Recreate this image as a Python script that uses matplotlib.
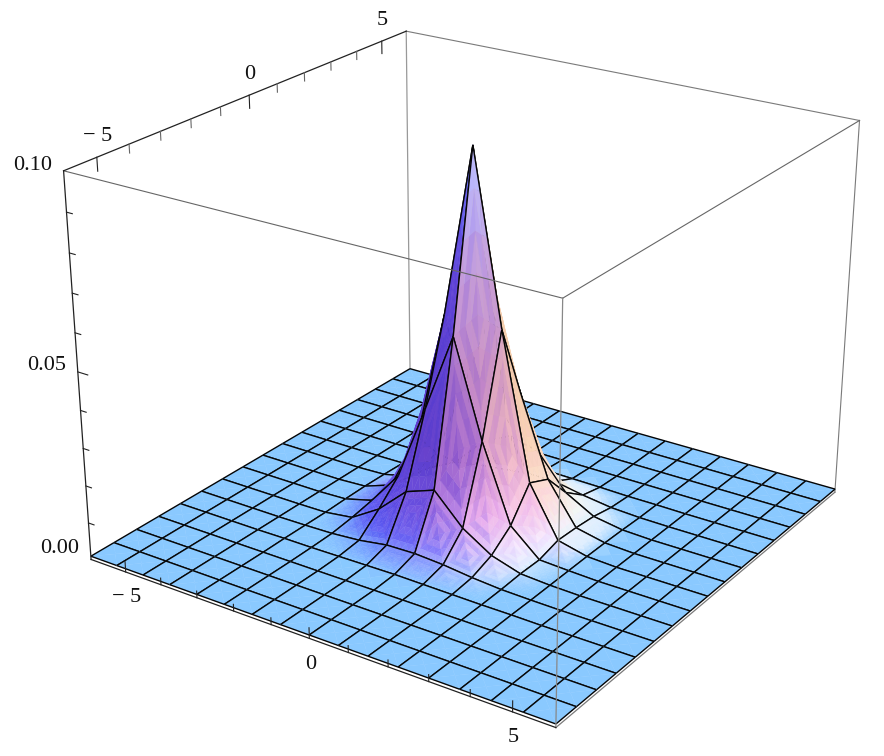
import numpy as np, matplotlib
matplotlib.use('Agg')
import matplotlib.pyplot as plt
from mpl_toolkits.mplot3d import proj3d
from mpl_toolkits.mplot3d.art3d import Poly3DCollection, Line3DCollection

plt.rcParams['font.family'] = ['Liberation Serif', 'DejaVu Serif']

# ---- data ----
mesh_x = [-6, -5.25, -4.5, -3.75, -3, -2.25, -1.5, -0.75, 0, 0.75, 1.5, 2.25, 3, 3.75, 4.5, 5.25, 6]
mesh_y = list(mesh_x)
floor_z = 0.0009
# heights on the central nodes x = -3 .. 3 (rows), y = -3 .. 3 (columns)
core_z = [
    [.0010, .0010, .0010, .0012, .0013, .0012, .0010, .0010, .0010],
    [.0010, .0012, .0020, .0032, .0040, .0030, .0020, .0012, .0010],
    [.0011, .0018, .0068, .0125, .0200, .0120, .0060, .0020, .0011],
    [.0012, .0030, .0140, .0330, .0550, .0330, .0140, .0030, .0012],
    [.0013, .0032, .0168, .0543, .1000, .0550, .0180, .0040, .0014],
    [.0012, .0027, .0089, .0288, .0551, .0355, .0160, .0040, .0013],
    [.0011, .0018, .0040, .0084, .0165, .0140, .0068, .0025, .0012],
    [.0010, .0012, .0016, .0016, .0032, .0030, .0025, .0014, .0010],
    [.0010, .0010, .0011, .0012, .0013, .0013, .0012, .0010, .0010],
]
x_ticks_major = [-5, 0, 5]
x_ticks_minor = [-4, -3, -2, -1, 1, 2, 3, 4]
z_ticks_major = [0.0, 0.05, 0.10]
z_ticks_minor = [.01, .02, .03, .04, .06, .07, .08, .09]
x_labels = ['\u2212 5', '0', '5']
z_labels = ['0.00', '0.05', '0.10']
z_label_lift = [11, 6, 5]
x_lim = (-6, 6)
y_lim = (-6, 6)
z_lim = (0, 0.1)

# colours seen on the surface, by height (rows) and by which way a facet faces (columns: left .. right)
tone_heights = [.0011, .002, .005, .012, .025, .045, .07, .095]
tone_sides = [-1, -.45, 0, .45, 1]
tone_table = np.array([
    [(.54, .79, 1.0), (.54, .79, 1.0), (.54, .79, 1.0), (.54, .79, 1.0), (.54, .79, 1.0)],
    [(.45, .62, 1.0), (.58, .70, 1.0), (.76, .84, 1.0), (.90, .94, 1.0), (.85, .93, 1.0)],
    [(.35, .35, .95), (.55, .50, .98), (.88, .78, .98), (.97, .92, 1.0), (.95, .97, .96)],
    [(.36, .28, .88), (.55, .38, .88), (.92, .68, .93), (.98, .80, .90), (.99, .90, .84)],
    [(.36, .24, .80), (.50, .30, .80), (.78, .52, .82), (.97, .76, .78), (.98, .84, .72)],
    [(.34, .24, .82), (.50, .32, .80), (.76, .53, .78), (.93, .72, .72), (.97, .82, .68)],
    [(.36, .26, .85), (.52, .35, .85), (.76, .60, .86), (.87, .70, .78), (.95, .80, .68)],
    [(.40, .42, .95), (.55, .55, 1.0), (.72, .72, 1.0), (.80, .78, .98), (.85, .80, .70)],
])
TAN = np.array([.86, .81, .62])

W, H = 884, 756
ELEV, AZIM, FOCAL, ZASP, SIDE, CX, CY = 23.67089, -55.89213, 0.52965, 0.74905, 859.6007, 461.265, 403.0185

fig = plt.figure(figsize=(W / 100, H / 100), dpi=100)
ax = fig.add_axes([(CX - SIDE / 2) / W, (CY - SIDE / 2) / H, SIDE / W, SIDE / H], projection='3d')
ax.set_axis_off()
ax.patch.set_alpha(0)
ax.computed_zorder = False
ax.set_xlim(*x_lim, view_margin=0)
ax.set_ylim(*y_lim, view_margin=0)
ax.set_zlim(*z_lim, view_margin=0)
ax.view_init(ELEV, AZIM)
ax.set_proj_type('persp', focal_length=FOCAL)
ax.set_box_aspect((1, 1, ZASP))
ax.apply_aspect()

xs = np.array(mesh_x, float)
ys = np.array(mesh_y, float)
Z = np.full((17, 17), floor_z)
Z[4:13, 4:13] = np.array(core_z)
log_h = np.log(tone_heights)


def tone(zval, side, back):
    u = np.clip(np.interp(np.log(max(zval, 1e-5)), log_h, np.arange(len(log_h))), 0, len(log_h) - 1)
    v = np.interp(np.clip(side, -1, 1), tone_sides, np.arange(len(tone_sides)))
    i0, j0 = min(int(u), len(log_h) - 2), min(int(v), len(tone_sides) - 2)
    fu, fv = u - i0, v - j0
    c = ((1 - fu) * (1 - fv) * tone_table[i0, j0] + fu * (1 - fv) * tone_table[i0 + 1, j0]
         + (1 - fu) * fv * tone_table[i0, j0 + 1] + fu * fv * tone_table[i0 + 1, j0 + 1])
    if back > 0 and zval > .006:
        c = (1 - back) * c + back * TAN
    return np.clip(c, 0, 1)


def facing(v):
    """Which way a normal faces on screen: (towards viewer, towards screen right)."""
    if v[2] < 0:
        v = -v
    v = v / np.linalg.norm(v)
    return (v[0] - v[1]) / np.sqrt(2), (v[0] + v[1]) / np.sqrt(2)


def facets(tri, n_sub, cell_normal):
    """Cut one triangle into smaller ones for the faceted shading; returns polygons, colours."""
    p = np.array(tri)
    s = p * [1 / 12, 1 / 12, ZASP / 0.1]
    a0, b0 = facing(np.cross(s[1] - s[0], s[2] - s[0]))
    a1, b1 = facing(cell_normal)
    a, b = 0.25 * a0 + 0.75 * a1, 0.25 * b0 + 0.75 * b1
    base_side = b / (np.hypot(a, b) + 1e-6)
    back = np.clip(-a / (np.hypot(a, b) + 1e-6) * (b > 0), 0, 1) * 0.9
    polys, cols = [], []
    pt = lambda i, j: p[0] + (p[1] - p[0]) * i / n_sub + (p[2] - p[0]) * j / n_sub
    for i in range(n_sub):
        for j in range(n_sub - i):
            t1 = [pt(i, j), pt(i + 1, j), pt(i, j + 1)]
            polys.append(t1)
            cols.append(tone(np.mean(t1, axis=0)[2], base_side + (0.07 if (i + j) % 2 else -0.04), back))
            if i + j < n_sub - 1:
                t2 = [pt(i + 1, j), pt(i + 1, j + 1), pt(i, j + 1)]
                polys.append(t2)
                cols.append(tone(np.mean(t2, axis=0)[2], base_side + (-0.07 if (i + j) % 2 else 0.08), back))
    return polys, cols


z_order = 10
for i in range(16):                 # far to near: x rising, y falling
    for j in range(15, -1, -1):
        q = [(xs[i], ys[j], Z[i, j]), (xs[i + 1], ys[j], Z[i + 1, j]),
             (xs[i + 1], ys[j + 1], Z[i + 1, j + 1]), (xs[i], ys[j + 1], Z[i, j + 1])]
        top = max(c[2] for c in q)
        m = tuple(np.mean(q, axis=0))
        sq = np.array(q) * [1 / 12, 1 / 12, ZASP / 0.1]
        cell_n = np.cross(sq[2] - sq[0], sq[3] - sq[1])
        polys, cols = [], []
        for k in range(4):
            pk, ck = facets([m, q[k], q[(k + 1) % 4]], 4 if top > .0015 else 1, cell_n)
            polys += pk
            cols += ck
        ax.add_collection3d(Poly3DCollection(polys, facecolors=cols, edgecolors=cols,
                                             linewidths=0.3, zorder=z_order))
        ax.add_collection3d(Line3DCollection([[q[k], q[(k + 1) % 4]] for k in range(4)],
                                             colors='#050505', linewidths=1.0, zorder=z_order + 0.5))
        z_order += 1

x0, x1 = x_lim
y0, y1 = y_lim
z0, z1 = z_lim
GRAY = '#7a7a7a'
DARK = '#222222'


def edge(a, b, col, lw, zo):
    ax.plot([a[0], b[0]], [a[1], b[1]], [a[2], b[2]], color=col, lw=lw, zorder=zo, clip_on=False)


edge((x0, y1, z0), (x0, y1, z1), '#999999', 0.9, 1)
edge((x0, y1, z1), (x1, y1, z1), GRAY, 0.8, 1)
edge((x1, y1, z1), (x1, y1, z0), GRAY, 0.8, 1)
edge((x1, y1, z0), (x1, y0, z0), GRAY, 0.9, 1)
edge((x0, y0, z1), (x1, y0, z1), '#666666', 0.8, 2000)
edge((x1, y1, z1), (x1, y0, z1), '#666666', 0.8, 2000)
edge((x1, y0, z1), (x1, y0, z0), '#888888', 0.9, 2000)
edge((x0, y0, z0), (x1, y0, z0), DARK, 0.9, 2000)
edge((x0, y0, z0), (x0, y0, z1), DARK, 0.9, 2000)
edge((x0, y0, z1), (x0, y1, z1), DARK, 0.9, 2000)

for v in x_ticks_major + x_ticks_minor:
    maj = v in x_ticks_major
    edge((v, y0, z0), (v, y0, z0 + (.0028 if maj else .0018)), DARK, 0.8, 2001)
    edge((x0, v, z1), (x0, v, z1 - (.0034 if maj else .0022)), DARK if maj else '#666666', 0.8, 2001)
for v in z_ticks_major + z_ticks_minor:
    if z0 < v < z1:
        edge((x0, y0, v), (x0 + (.28 if v in z_ticks_major else .16), y0, v), DARK, 0.8, 2001)

M = ax.get_proj()


def label(s, point, dx, dy):
    a, b, _ = proj3d.proj_transform(np.array([point[0]]), np.array([point[1]]), np.array([point[2]]), M)
    ax.annotate(s, xy=(a[0], b[0]), xycoords='data', xytext=(dx, dy), textcoords='offset pixels',
                ha='center', va='center', fontsize=16, color='#111111', zorder=2002, annotation_clip=False)


for v, s in zip(x_ticks_major, x_labels):
    label(s, (v, y0, z0), 1, -26)
    label(s, (x0, v, z1), 1, 21)
for v, s, lift in zip(z_ticks_major, z_labels, z_label_lift):
    label(s, (x0, y0, v), -31, lift)

fig.savefig('out.png', dpi=100)
